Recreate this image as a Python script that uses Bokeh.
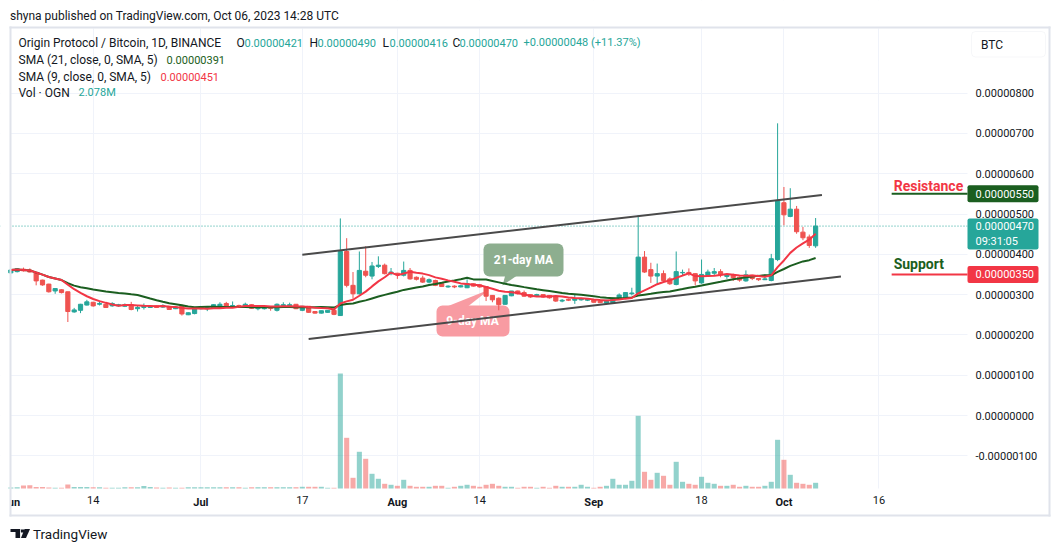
import numpy as np
import pandas as pd
from bokeh.plotting import figure
from bokeh.models import (Range1d, LinearAxis, FixedTicker, PrintfTickFormatter, Span, Label,
                          BoxAnnotation, PolyAnnotation, ColumnDataSource)
from bokeh.core.properties import value
from bokeh.embed import file_html
from bokeh.resources import INLINE

# ---------------- data (prices in satoshi = 1e-8 BTC, volume in millions OGN) -------------
first_day = "2023-06-01"
open_sats = [354, 357, 363, 361, 355, 336, 326, 309, 312, 307, 257, 261, 274, 281, 276, 276, 272, 272, 271, 275,
             265, 268, 268, 272, 269, 271, 265, 273, 250, 253,
             265, 265, 267, 271, 278, 270, 273, 270, 275, 265, 265, 270, 261, 270, 272, 276, 261, 271, 258, 254,
             256, 261, 248, 407, 323, 302, 358, 346, 370, 373, 352,
             353, 348, 360, 343, 341, 331, 335, 327, 319, 321, 319, 317, 327, 324, 320, 298, 291, 276, 297, 309,
             305, 300, 296, 300, 298, 294, 284, 288, 286, 287, 286,
             287, 284, 279, 280, 288, 291, 302, 303, 393, 362, 346, 352, 339, 325, 354, 355, 352, 329, 348, 353,
             357, 345, 349, 343, 334, 348, 340, 337, 335, 387,
             528, 494, 512, 455, 443, 421]
high_sats = [363, 366, 367, 365, 356, 337, 327, 316, 313, 307, 267, 277, 287, 282, 283, 278, 281, 277, 278, 282,
             272, 278, 272, 273, 276, 272, 270, 275, 256, 268,
             272, 270, 276, 281, 282, 283, 275, 280, 276, 271, 269, 271, 278, 281, 280, 276, 271, 271, 259, 260,
             261, 262, 489, 440, 356, 407, 420, 381, 395, 377, 366,
             354, 382, 366, 345, 347, 340, 337, 328, 323, 323, 324, 338, 328, 325, 321, 299, 293, 299, 309, 310,
             310, 301, 302, 300, 299, 295, 289, 290, 300, 292, 290,
             288, 285, 287, 293, 303, 306, 317, 497, 408, 379, 377, 360, 343, 407, 362, 365, 353, 387, 362, 366,
             363, 352, 352, 345, 360, 349, 341, 350, 401, 725,
             567, 564, 520, 468, 449, 490]
low_sats = [352, 355, 357, 355, 323, 322, 305, 302, 303, 232, 255, 254, 273, 270, 273, 267, 270, 270, 269, 261,
            258, 263, 267, 267, 267, 262, 264, 248, 249, 251,
            263, 259, 265, 268, 270, 268, 268, 268, 265, 261, 263, 260, 258, 268, 269, 264, 259, 255, 253, 253,
            255, 249, 247, 318, 290, 300, 343, 338, 366, 350, 348,
            339, 345, 337, 335, 329, 328, 321, 319, 317, 316, 318, 316, 320, 317, 284, 281, 261, 275, 296, 300,
            295, 292, 294, 292, 290, 282, 281, 284, 277, 285, 284,
            280, 279, 276, 277, 287, 290, 298, 301, 354, 329, 327, 333, 324, 323, 348, 346, 323, 327, 346, 348,
            343, 339, 334, 332, 332, 336, 334, 336, 333, 383,
            472, 492, 451, 435, 416, 416]
close_sats = [361, 364, 359, 356, 334, 324, 307, 315, 305, 258, 262, 276, 282, 272, 278, 268, 278, 275, 275, 263,
              268, 272, 271, 268, 273, 263, 269, 252, 255, 268,
              270, 268, 275, 276, 271, 273, 270, 276, 266, 270, 268, 266, 276, 275, 275, 265, 271, 256, 254, 260,
              261, 251, 407, 323, 302, 360, 348, 371, 373, 352, 356,
              349, 360, 339, 338, 331, 337, 323, 320, 321, 319, 322, 327, 321, 319, 296, 287, 275, 298, 309, 302,
              296, 294, 300, 294, 292, 284, 286, 286, 290, 290, 288,
              281, 280, 286, 291, 299, 305, 304, 393, 356, 346, 352, 335, 327, 357, 355, 352, 334, 350, 356, 357,
              349, 349, 342, 336, 349, 340, 337, 339, 389, 532,
              498, 512, 456, 441, 422, 470]
volume_m = [0.36, 0.47, 1.09, 1.20, 0.55, 0.55, 0.36, 0.26, 0.26, 1.46, 0.55, 0.55, 0.55, 0.47, 0.47, 0.26,
            0.26, 0.26, 0.47, 0.47, 0.47, 0.91, 0.55, 0.36, 0.26, 0.36, 0.26, 0.26, 0.47, 0.47,
            0.47, 0.47, 0.47, 0.47, 0.47, 0.47, 0.47, 0.26, 0.47, 0.47, 0.47, 0.47, 0.47, 0.47, 0.47, 0.47,
            0.62, 0.62, 0.62, 0.62, 0.26, 0.26,
            41.92, 18.48, 3.90, 13.38, 10.83, 5.36, 3.54, 1.71, 1.35,
            0.98, 3.17, 0.98, 0.62, 0.62, 0.62, 0.98, 0.98, 0.26, 0.62, 0.98, 1.35, 0.98, 0.62, 1.35, 1.71,
            0.98, 0.62, 0.62, 0.26, 0.62, 0.62, 0.26, 0.62, 0.26, 0.98, 0.62, 0.62, 0.62, 1.35, 0.62,
            0.26, 0.62, 0.98, 3.54, 1.35, 1.35, 2.81, 26.50, 6.09, 3.17, 5.72, 4.63, 1.35, 9.73, 2.44, 1.71,
            1.35, 4.27, 2.08, 1.71, 0.98, 0.98, 1.35, 0.62, 0.98, 0.62, 0.62, 0.98, 2.44, 17.75,
            10.46, 4.99, 2.08, 1.71, 1.35, 2.078]

tick_dates = ["2023-06-01", "2023-06-14", "2023-07-01", "2023-07-17", "2023-08-01",
              "2023-08-14", "2023-09-01", "2023-09-18", "2023-10-01", "2023-10-16"]
tick_labels = ["Jun", "14", "Jul", "17", "Aug", "14", "Sep", "18", "Oct", "16"]
tick_is_month = [True, False, True, False, True, False, True, False, True, False]
price_ticks_sats = [-100, 0, 100, 200, 300, 400, 500, 600, 700, 800]

resistance_sats = 550
support_sats = 350
levels_start = "2023-10-18"
upper_channel_dates = ["2023-07-17", "2023-10-07"]
upper_channel_sats = [399, 547]
lower_channel_dates = ["2023-07-18", "2023-10-10"]
lower_channel_sats = [190, 345]

# ---------------- derived ----------------
SAT = 1e-8
REF = pd.Timestamp("2023-07-01")
dates = pd.date_range(first_day, periods=len(close_sats), freq="D")
def dx(d):
    return (pd.Timestamp(d) - REF) / pd.Timedelta(days=1)
x = np.array([(d - REF).days for d in dates], dtype=float)
o = np.array(open_sats) * SAT
h = np.array(high_sats) * SAT
l = np.array(low_sats) * SAT
c = np.array(close_sats) * SAT
UP, DOWN = "#26a69a", "#ef5350"
colors = [UP if ci >= oi else DOWN for oi, ci in zip(o, c)]
closes = pd.Series(c)
sma21 = closes.rolling(21, min_periods=1).mean().values
sma9 = closes.rolling(9, min_periods=1).mean().values
src = ColumnDataSource(dict(x=x, o=o, h=h, l=l, c=c, top=np.maximum(o, c), bottom=np.minimum(o, c),
                            color=colors, vol=volume_m, sma21=sma21, sma9=sma9))

TXT = "#131722"
GRID = "#f0f3fa"
BORDER = "#e0e3eb"
FONT = "Roboto"
SMA21_C = "#1b5e20"
SMA9_C = "#f23645"

# ---------------- layout: the frame is the whole canvas (page px == screen px) -------------
W, H = 1059, 551
PX_PER_DAY = 6.337
X0 = -30.05 - 10 / PX_PER_DAY          # data x at page x = 0
PX_PER_SAT = 0.403
Y0_PAGE = 415.0                          # page y of price 0
PLOT_L, PLOT_R, PLOT_T, PLOT_B = 10, 967, 28, 488
VOL_PX_PER_M = 2.743
def sx(px):
    return px
def sy(py):
    return H - py
def d_of(px):
    return X0 + px / PX_PER_DAY
def s_of(py):
    return (Y0_PAGE - py) / PX_PER_SAT * SAT

p = figure(width=W, height=H, x_range=Range1d(X0, X0 + W / PX_PER_DAY),
           y_range=Range1d(s_of(H), s_of(0)), output_backend="svg", toolbar_location=None,
           x_axis_location=None, y_axis_location="right",
           min_border_left=0, min_border_right=0, min_border_top=0, min_border_bottom=0)
p.outline_line_color = None
p.background_fill_color = "white"
p.border_fill_color = "white"

# right price axis (labels drawn inward into the price-scale column)
yax = p.yaxis[0]
yax.ticker = FixedTicker(ticks=[t * SAT for t in price_ticks_sats])
yax.formatter = PrintfTickFormatter(format="%.8f")
yax.major_tick_line_color = None
yax.minor_tick_line_color = None
yax.major_tick_out = 0
yax.major_tick_in = 0
yax.axis_line_color = None
yax.major_label_standoff = 975 - W
yax.major_label_text_font = FONT
yax.major_label_text_font_size = "11px"
yax.major_label_text_color = TXT
p.ygrid.ticker = FixedTicker(ticks=[t * SAT for t in price_ticks_sats])
p.ygrid.grid_line_color = GRID

# time axes: day numbers (normal) and months (bold), both drawn inward into the time-scale row
tick_x = [int(dx(d)) for d in tick_dates]
p.xgrid.ticker = FixedTicker(ticks=tick_x)
p.xgrid.grid_line_color = GRID
for bold in (False, True):
    tx = [t for t, m in zip(tick_x, tick_is_month) if m == bold]
    lab = {t: s for t, s, m in zip(tick_x, tick_labels, tick_is_month) if m == bold}
    ax = LinearAxis(ticker=FixedTicker(ticks=tx), major_label_overrides=lab)
    ax.major_tick_line_color = None
    ax.minor_tick_line_color = None
    ax.major_tick_out = 0
    ax.major_tick_in = 0
    ax.axis_line_color = None
    ax.major_label_standoff = 495 - H
    ax.major_label_text_font = FONT
    ax.major_label_text_font_size = "11px"
    ax.major_label_text_color = TXT
    ax.major_label_text_font_style = "bold" if bold else "normal"
    p.add_layout(ax, "below")

# last price line
p.add_layout(Span(location=close_sats[-1] * SAT, dimension="width", line_color=UP,
                  line_dash="1 2", line_width=1, level="underlay"))

# white cover outside the plotting pane (hides grid lines there)
def sbox(l_, r_, t_, b_, **kw):
    return BoxAnnotation(left=sx(l_), right=sx(r_), top=sy(t_), bottom=sy(b_), left_units="screen",
                         right_units="screen", top_units="screen", bottom_units="screen", **kw)
for l_, r_, t_, b_ in [(0, W, 0, PLOT_T), (0, PLOT_L, 0, H), (PLOT_R, W, 0, H), (0, W, PLOT_B, H)]:
    p.add_layout(sbox(l_, r_, t_, b_, fill_color="white", fill_alpha=1, line_color=None, level="underlay"))

# volume (own scale, base on the pane bottom)
p.extra_y_ranges = {"vol": Range1d(-(H - PLOT_B) / VOL_PX_PER_M, PLOT_B / VOL_PX_PER_M)}
p.vbar(x="x", width=0.8, top="vol", bottom=0, y_range_name="vol", source=src,
       fill_color="color", fill_alpha=0.5, line_color=None)

# callouts (behind candles)
p.quad(left=[d_of(483)], right=[d_of(563)], top=[s_of(243)], bottom=[s_of(276)],
       fill_color="#8dae8f", line_color=None, border_radius=6)
p.patch([d_of(505), d_of(518), d_of(502)], [s_of(274), s_of(274), s_of(285)],
        fill_color="#8dae8f", line_color=None)
p.quad(left=[d_of(436)], right=[d_of(509)], top=[s_of(305)], bottom=[s_of(336)],
       fill_color="#f89ba2", line_color=None, border_radius=6)
p.patch([d_of(444), d_of(466), d_of(489)], [s_of(307), s_of(307), s_of(289)],
        fill_color="#f89ba2", line_color=None)
p.text(x=[d_of(523)], y=[s_of(259)], text=["21-day MA"], text_align="center", text_baseline="middle",
       text_color="white", text_font=value(FONT), text_font_size="12px", text_font_style="bold")
p.text(x=[d_of(472)], y=[s_of(320.5)], text=["9-day MA"], text_align="center", text_baseline="middle",
       text_color="white", text_font=value(FONT), text_font_size="12px", text_font_style="bold")

# candles
p.segment(x0="x", y0="l", x1="x", y1="h", color="color", line_width=1, source=src)
p.vbar(x="x", width=0.66, top="top", bottom="bottom", fill_color="color", line_color="color",
       line_width=1, source=src)

# moving averages
p.line("x", "sma21", source=src, line_color=SMA21_C, line_width=2)
p.line("x", "sma9", source=src, line_color=SMA9_C, line_width=2)

# channel trendlines
TREND = "#4a4a4a"
p.line([dx(d) for d in upper_channel_dates], [v * SAT for v in upper_channel_sats], line_color=TREND, line_width=2)
p.line([dx(d) for d in lower_channel_dates], [v * SAT for v in lower_channel_sats], line_color=TREND, line_width=2)

# resistance / support levels
lv_end = d_of(PLOT_R)
p.segment(x0=[dx(levels_start)] * 2, x1=[lv_end] * 2,
          y0=[resistance_sats * SAT, support_sats * SAT], y1=[resistance_sats * SAT, support_sats * SAT],
          line_color=[SMA21_C, SMA9_C], line_width=2)
p.add_layout(Label(x=dx(levels_start), y=resistance_sats * SAT, x_offset=2, y_offset=7.5, text="Resistance",
                   text_color=SMA9_C, text_font=FONT, text_font_size="14px", text_font_style="bold",
                   text_baseline="middle"))
p.add_layout(Label(x=dx(levels_start), y=support_sats * SAT, x_offset=2, y_offset=10.5, text="Support",
                   text_color=SMA21_C, text_font=FONT, text_font_size="14px", text_font_style="bold",
                   text_baseline="middle"))

# price-scale badges
def badge(level, up_px, down_px, color, lines):
    p.add_layout(BoxAnnotation(left=sx(967), right=sx(1038), left_units="screen", right_units="screen",
                               top=(level + up_px / PX_PER_SAT) * SAT, bottom=(level - down_px / PX_PER_SAT) * SAT,
                               fill_color=color, fill_alpha=1, line_color=None, border_radius=2))
    for i, t in enumerate(lines):
        p.add_layout(Label(x=sx(975), x_units="screen", y=level * SAT, y_offset=-15 * i, text=t,
                           text_color="white", text_font=FONT, text_font_size="11px", text_baseline="middle"))
badge(resistance_sats, 8.5, 8.5, SMA21_C, ["%.8f" % (resistance_sats * SAT)])
badge(close_sats[-1], 7.6, 23.4, UP, ["%.8f" % (close_sats[-1] * SAT), "09:31:05"])
badge(support_sats, 8.5, 8.5, SMA9_C, ["%.8f" % (support_sats * SAT)])

# hide the part of the first month label that falls outside the chart box
p.add_layout(sbox(0, 9.5, 489, 514, fill_color="white", fill_alpha=1, line_color=None))
# outer chart border (four filled strips)
for l_, r_, t_, b_ in [(9, 1050, 26, 28), (9, 1050, 514, 516), (9, 11, 26, 516), (1048, 1050, 26, 516)]:
    p.add_layout(sbox(l_, r_, t_, b_, fill_color=BORDER, fill_alpha=1, line_color=None))
# BTC button
p.add_layout(sbox(971, 1045, 31, 56.5, fill_color="white", fill_alpha=1, line_color=BORDER,
                  line_width=1, border_radius=4))

def slabel(px, py, text, color=TXT, size="12px", style="normal"):
    p.add_layout(Label(x=sx(px), y=sy(py), x_units="screen", y_units="screen", text=text, text_color=color,
                       text_font=FONT, text_font_size=size, text_font_style=style, text_baseline="middle"))

slabel(980.5, 44.5, "BTC")
slabel(9.5, 15, "shyna published on TradingView.com, Oct 06, 2023 14:28 UTC")

# legend
slabel(18, 42, "Origin Protocol / Bitcoin, 1D, BINANCE")
chg = close_sats[-1] - close_sats[-2]
for px, letter, vx, v in [(236, "O", 244, open_sats[-1]), (309, "H", 317, high_sats[-1]),
                          (382, "L", 389, low_sats[-1]), (452, "C", 459, close_sats[-1])]:
    slabel(px, 42, letter)
    slabel(vx, 42, "%.8f" % (v * SAT), color=UP, size="11px")
slabel(523, 42, "+%.8f (+%.2f%%)" % (chg * SAT, 100 * chg / close_sats[-2]), color=UP, size="11px")
slabel(18, 59, "SMA (21, close, 0, SMA, 5)")
slabel(166, 59, "%.8f" % sma21[-1], color=SMA21_C, size="11px")
slabel(18, 76, "SMA (9, close, 0, SMA, 5)")
slabel(160, 76, "%.8f" % sma9[-1], color=SMA9_C, size="11px")
slabel(18, 92, "Vol \u00b7 OGN")
slabel(78, 92, "%.3fM" % volume_m[-1], color=UP, size="11px")

# footer logo + wordmark
for l_, r_, t_, b_ in [(10, 19.6, 528.5, 531.5), (15, 19.6, 528.5, 537.5)]:
    p.add_layout(sbox(l_, r_, t_, b_, fill_color=TXT, fill_alpha=1, line_color=None))
p.add_layout(PolyAnnotation(xs=[sx(20.5), sx(23.5), sx(23.5), sx(20.5)], ys=[sy(529), sy(529), sy(532), sy(532)],
                            xs_units="screen", ys_units="screen", fill_color=TXT, fill_alpha=1, line_color=None))
p.add_layout(PolyAnnotation(xs=[sx(24), sx(29.5), sx(25.5), sx(20.5)], ys=[sy(528.5), sy(528.5), sy(537.5), sy(537.5)],
                            xs_units="screen", ys_units="screen", fill_color=TXT, fill_alpha=1, line_color=None))
slabel(32.5, 533, "TradingView", size="13.5px")

open("out.html", "w").write(file_html(p, INLINE))
